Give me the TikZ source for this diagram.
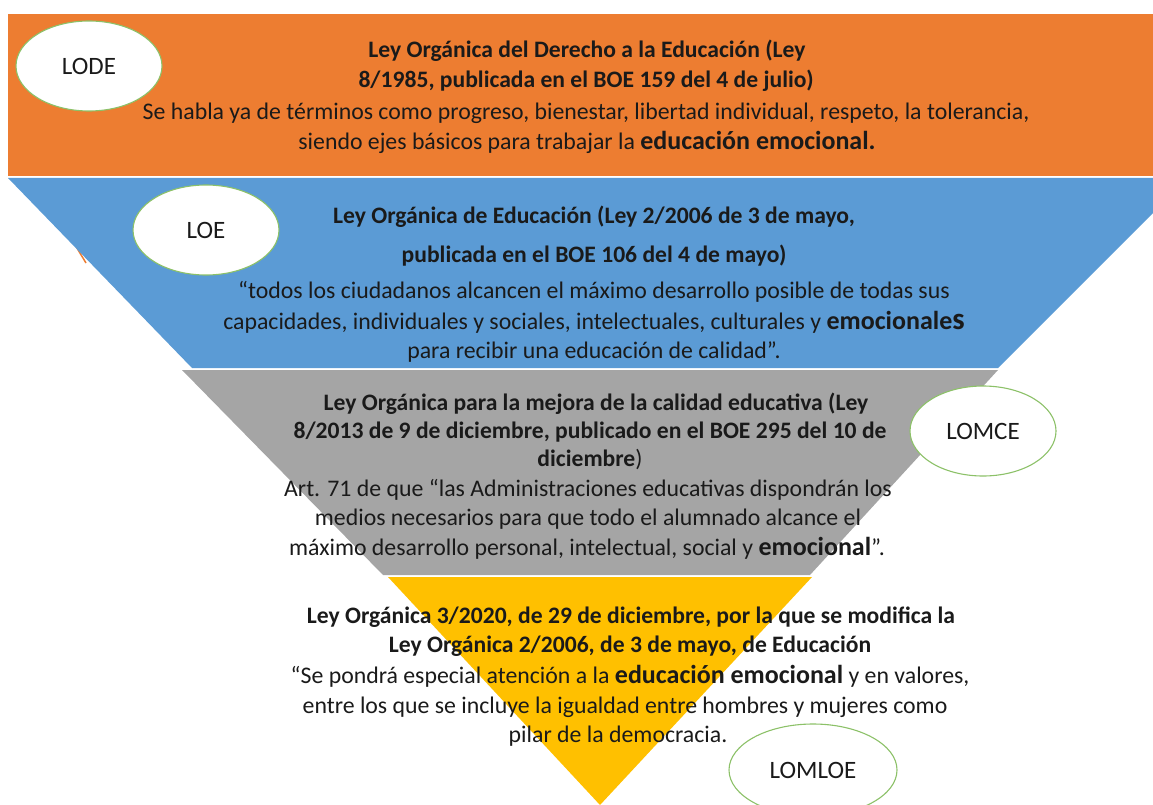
\documentclass[tikz,border=0pt]{standalone}
\usepackage{fontspec}
\setmainfont{Carlito}
\usetikzlibrary{shapes.geometric}
\definecolor{cOrange}{HTML}{ED7D31}
\definecolor{cBlue}{HTML}{5B9BD5}
\definecolor{cGray}{HTML}{A5A5A5}
\definecolor{cYellow}{HTML}{FFC000}
\definecolor{cGreen}{HTML}{8CC168}
\definecolor{cText}{HTML}{1A1A1A}
\newcommand\myTitle{\fontsize{23.6}{26}\selectfont\bfseries}
\newcommand\myBody{\fontsize{23.8}{26}\selectfont}
\newcommand\myEmph[1]{{\fontsize{26}{28}\selectfont\bfseries #1}}
\begin{document}
\begin{tikzpicture}[x=1pt,y=-1pt,
  lbl/.style={ellipse,draw=cGreen,line width=1.1pt,fill=white,inner sep=0pt,
    minimum width=146pt,minimum height=90pt,font=\fontsize{25}{30}\selectfont,text=cText},
  tline/.style={anchor=base,inner sep=0pt,font=\myTitle,text=cText},
  bline/.style={anchor=base,inner sep=0pt,font=\myBody,text=cText}]
\useasboundingbox (0,0) rectangle (1153,805);
\begin{scope}
\clip (0,0) rectangle (1153,805);
\fill[cOrange] (8,14) rectangle (1160,176);
\draw[cOrange,line width=1.5pt] (54,210) -- (86,263);
\fill[cBlue] (8,178) -- (1188,178) -- (998,368) -- (192,368) -- cycle;
\fill[cGray] (182,370) -- (998,370) -- (810,575) -- (383,575) -- cycle;
\fill[cYellow] (388,577) -- (812,577) -- (600,805) -- cycle;
\end{scope}
% ellipses
\node[lbl] (lode) at (89,66) {LODE};
\node[lbl] (loe) at (206,230) {LOE};
\node[lbl] (lomce) at (983,431) {LOMCE};
\node[lbl,minimum width=168pt,minimum height=92pt] (lomloe) at (813,770) {LOMLOE};
% orange
\node[tline] (o1) at (587,58) {Ley Orgánica del Derecho a la Educación (Ley};
\node[tline] (o2) at (586,88) {8/1985, publicada en el BOE 159 del 4 de julio)};
\node[bline] (o3) at (586,120) {Se habla ya de términos como progreso, bienestar, libertad individual, respeto, la tolerancia,};
\node[bline] (o4) at (587,150) {siendo ejes básicos para trabajar la \myEmph{educación emocional.}};
% blue
\node[tline] (b1) at (594,223) {Ley Orgánica de Educación (Ley 2/2006 de 3 de mayo,};
\node[tline] (b2) at (594,262) {publicada en el BOE 106 del 4 de mayo)};
\node[bline] (b3) at (594,298) {“todos los ciudadanos alcancen el máximo desarrollo posible de todas sus};
\node[bline] (b4) at (594,329) {capacidades, individuales y sociales, intelectuales, culturales y \myEmph{emocionale{\fontsize{31}{32}\selectfont s}}};
\node[bline] (b5) at (594,358) {para recibir una educación de calidad”.};
% gray
\node[tline] (g1) at (596,410) {Ley Orgánica para la mejora de la calidad educativa (Ley};
\node[tline] (g2) at (590,438) {8/2013 de 9 de diciembre, publicado en el BOE 295 del 10 de};
\node[tline] (g3) at (590,466) {diciembre\mdseries)};
\node[bline] (g4) at (588,496) {Art. 71 de que “las Administraciones educativas dispondrán los};
\node[bline] (g5) at (588,525) {medios necesarios para que todo el alumnado alcance el};
\node[bline] (g6) at (587,555) {máximo desarrollo personal, intelectual, social y \myEmph{emocional}”.};
% yellow
\node[tline] (y1) at (631,623) {Ley Orgánica 3/2020, de 29 de diciembre, por la que se modifica la};
\node[tline] (y2) at (630,652) {Ley Orgánica 2/2006, de 3 de mayo, de Educación};
\node[bline] (y3) at (630,683) {“Se pondrá especial atención a la \myEmph{educación emocional} y en valores,};
\node[bline] (y4) at (625,713) {entre los que se incluye la igualdad entre hombres y mujeres como};
\node[bline] (y5) at (618,742) {pilar de la democracia.};
\end{tikzpicture}
\end{document}
